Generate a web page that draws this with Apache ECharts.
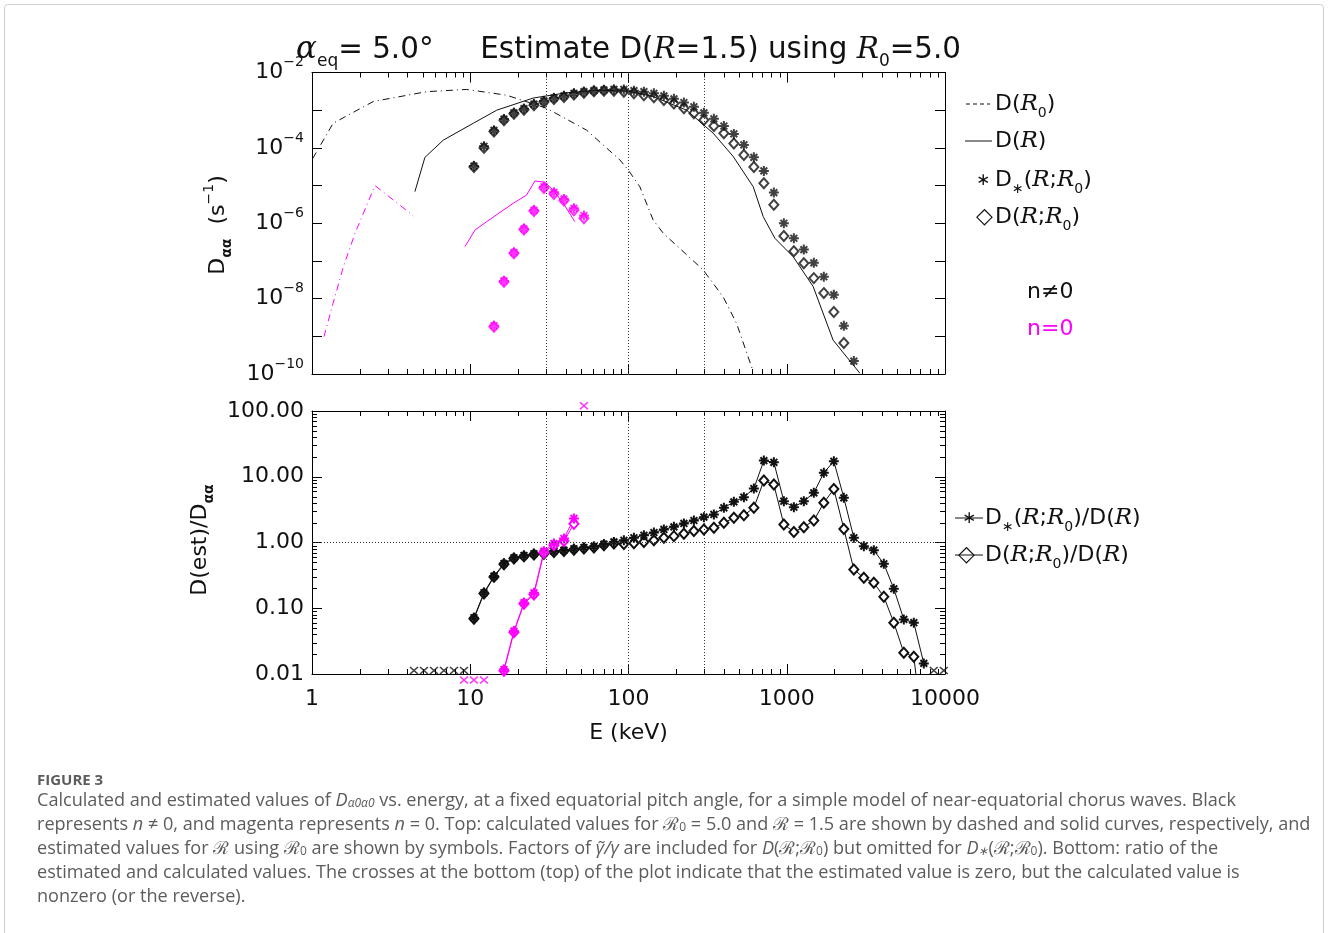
<!DOCTYPE html>
<html>
<head>
<meta charset="utf-8">
<script src="https://cdn.jsdelivr.net/npm/echarts@6/dist/echarts.min.js"></script>
<style>html,body{margin:0;padding:0;background:#fff}#main{width:1328px;height:933px}</style>
</head>
<body>
<div id="main"></div>
<script>
// energy grid of the symbols (keV)
var energy = [10.55, 12.21, 14.12, 16.33, 18.88, 21.84, 25.26, 29.22, 33.79, 39.08, 45.20, 52.27,
  60.46, 69.93, 80.88, 93.5, 108.2, 125.1, 144.7, 167.3, 193.6, 223.9, 258.9, 299.5, 346.4, 400.6,
  463.3, 535.8, 619.7, 716.7, 828.9, 958.7, 1109, 1282, 1483, 1715, 1984, 2295, 2654, 3069, 3550,
  4106, 4749, 5492, 6352, 7346, 8496, 9826];

// top panel, n != 0
var dR0E = [1.01, 1.36, 2.44, 5.30, 9.49, 16.98, 30.4, 54.4, 88.2, 99.5, 118, 143, 166, 296, 396, 482, 614];
var dR0 = [5.2e-5, 4.5e-4, 1.7e-3, 3.1e-3, 3.55e-3, 2.5e-3, 1.12e-3, 2.95e-4, 4.8e-5, 2.6e-5, 9.3e-6,
  1.23e-6, 5.4e-7, 5.8e-8, 1.12e-8, 2.2e-9, 1.15e-10];
var dRE = [4.47, 5.17, 6.75, 10.45, 14.7, 25.0, 40.6, 65.9, 100, 143, 233, 343, 459, 614, 710, 841, 1097, 1468, 1964, 2897];
var dR = [6.9e-6, 5.6e-5, 1.6e-4, 4.5e-4, 1.0e-3, 2.1e-3, 2.9e-3, 3.4e-3, 3.2e-3, 2.3e-3, 1.0e-3, 2.45e-4,
  5.9e-5, 9.3e-6, 1.5e-6, 4.0e-7, 1.3e-7, 2.1e-8, 7.9e-10, 1.05e-10];
var dStar = [3.3e-5, 1.1e-4, 2.9e-4, 5.8e-4, 8.5e-4, 1.1e-3, 1.45e-3, 1.75e-3, 2.1e-3, 2.4e-3, 2.8e-3, 3.1e-3,
  3.3e-3, 3.45e-3, 3.55e-3, 3.55e-3, 3.3e-3, 3.1e-3, 2.8e-3, 2.4e-3, 2.0e-3, 1.6e-3, 1.23e-3, 8.5e-4,
  5.9e-4, 3.8e-4, 2.35e-4, 1.2e-4, 5.6e-5, 2.45e-5, 6.5e-6, 1.0e-6, 4.0e-7, 2.0e-7, 8.9e-8, 3.8e-8,
  1.26e-8, 1.9e-9, 2.2e-10];
var dDiam = [3.1e-5, 1.0e-4, 2.7e-4, 5.4e-4, 8.0e-4, 1.03e-3, 1.36e-3, 1.65e-3, 1.98e-3, 2.25e-3, 2.6e-3, 2.9e-3,
  3.2e-3, 3.3e-3, 3.3e-3, 3.1e-3, 2.8e-3, 2.5e-3, 2.2e-3, 1.86e-3, 1.5e-3, 1.12e-3, 8.3e-4, 5.5e-4,
  3.8e-4, 2.45e-4, 1.3e-4, 6.5e-5, 3.1e-5, 1.15e-5, 3.1e-6, 4.6e-7, 1.8e-7, 8.7e-8, 3.5e-8, 1.4e-8,
  4.4e-9, 6.6e-10];

// top panel, n = 0 (symbols start at energy[2])
var mR0E = [1.19, 1.36, 1.58, 1.87, 2.50, 4.16, 4.36];
var mR0 = [9.8e-10, 7.6e-9, 7.1e-8, 5.4e-7, 1.0e-5, 1.86e-6, 1.55e-6];
var mRE = [9.26, 10.71, 12.69, 18.7, 22.7, 25.6, 29.6, 33.4, 38.7, 45.8];
var mR = [2.4e-7, 6.6e-7, 1.1e-6, 3.4e-6, 5.6e-6, 1.32e-5, 1.23e-5, 7.6e-6, 3.4e-6, 1.1e-6];
var mStar = [1.9e-9, 2.95e-8, 1.66e-7, 7.1e-7, 2.2e-6, 9.3e-6, 6.6e-6, 4.4e-6, 2.5e-6, 1.6e-6];
var mDiam = [1.8e-9, 2.8e-8, 1.6e-7, 6.8e-7, 2.1e-6, 8.6e-6, 6.0e-6, 4.0e-6, 2.2e-6, 1.35e-6];

// bottom panel ratios, n != 0 (from energy[0])
var rStar = [0.0716, 0.172, 0.308, 0.479, 0.585, 0.634, 0.673, 0.697, 0.738, 0.764, 0.802, 0.839, 0.869,
  0.942, 1.02, 1.08, 1.18, 1.29, 1.42, 1.58, 1.73, 1.95, 2.16, 2.43, 2.67, 3.37, 4.15, 4.89, 6.62, 17.6,
  16.6, 4.25, 3.44, 4.25, 5.69, 11.5, 17.2, 4.78, 1.18, 0.88, 0.764, 0.474, 0.198, 0.0676, 0.0603, 0.0145];
var rDiam = [0.069, 0.167, 0.30, 0.465, 0.57, 0.615, 0.655, 0.675, 0.715, 0.74, 0.775, 0.81, 0.84, 0.91,
  0.966, 0.95, 0.975, 1.02, 1.08, 1.18, 1.25, 1.36, 1.49, 1.58, 1.67, 1.99, 2.37, 2.60, 3.37, 8.75, 7.60,
  1.88, 1.45, 1.71, 2.16, 4.01, 6.5, 1.61, 0.389, 0.290, 0.244, 0.150, 0.0603, 0.0211, 0.0183, 0.001];
// bottom panel ratios, n = 0 (from energy[3])
var rmStar = [0.0117, 0.0449, 0.121, 0.172, 0.738, 0.966, 1.15, 2.32];
var rmDiam = [0.0112, 0.043, 0.117, 0.162, 0.697, 0.912, 1.05, 1.92];

// crosses: estimate zero (bottom) or calculation zero (top)
var crossBlackE = [4.41, 5.10, 5.90, 6.82, 7.89, 9.13, 8496, 9826];
var crossMagLowE = [9.13, 10.55, 12.21];
var crossMagHighE = [52.27];
var crossLow = 0.0113, crossBelow = 0.0081, crossAbove = 120;

var refE = [30, 100, 300];
var xTicks = ['1', '10', '100', '1000', '10000'];

var MAG = '#ff00ff';
var FONT = 'DejaVu Sans';
var STAR = 'path://M0,8H20V12H0Z M8,0H12V20H8Z M1.8,4.6L4.6,1.8L18.2,15.4L15.4,18.2Z M15.4,1.8L18.2,4.6L4.6,18.2L1.8,15.4Z';
var CROSS = 'path://M0,2.5L2.5,0L20,17.5L17.5,20Z M17.5,0L20,2.5L2.5,20L0,17.5Z';

function pairs(xs, ys) {
  return ys.map(function (v, i) { return [xs[i], v]; });
}

function curve(xs, ys, color, dash, xi, yi) {
  return {
    type: 'line', xAxisIndex: xi, yAxisIndex: yi, data: pairs(xs, ys), showSymbol: false,
    symbol: 'none', silent: true, animation: false,
    lineStyle: { color: color, width: 1, type: dash || 'solid' }
  };
}

function marks(xs, ys, color, kind, xi, yi, withLine) {
  var s = {
    type: withLine ? 'line' : 'scatter', xAxisIndex: xi, yAxisIndex: yi, data: pairs(xs, ys),
    symbol: kind === 'star' ? STAR : 'emptyDiamond',
    symbolSize: kind === 'star' ? 10 : [9, 10],
    showSymbol: true, silent: true, animation: false,
    itemStyle: kind === 'star' ? { color: color } : { color: color, borderWidth: 1 }
  };
  if (withLine) s.lineStyle = { color: color, width: 1 };
  return s;
}

function crosses(xs, y, color, xi, yi) {
  return {
    type: 'scatter', xAxisIndex: xi, yAxisIndex: yi, clip: false, silent: true, animation: false,
    data: xs.map(function (x) { return [x, y]; }),
    symbol: CROSS, symbolSize: [9, 8], itemStyle: { color: color }
  };
}

function minorTicks(xi, yi, xr, yr, withY) {
  return {
    type: 'custom', xAxisIndex: xi, yAxisIndex: yi, silent: true, clip: false, animation: false,
    data: [[xr[0], yr[0]]],
    renderItem: function (params, api) {
      var kids = [];
      var st = { stroke: '#000', lineWidth: 1 };
      var lo = api.coord([xr[0], yr[0]]), hi = api.coord([xr[1], yr[1]]);
      function seg(a, b, c, d) {
        kids.push({ type: 'line', shape: { x1: a, y1: b, x2: c, y2: d }, style: st });
      }
      var e, m, p;
      for (e = Math.round(Math.log10(xr[0])); e < Math.round(Math.log10(xr[1])); e++) {
        for (m = 2; m < 10; m++) {
          p = Math.round(api.coord([m * Math.pow(10, e), yr[0]])[0]) + 0.5;
          seg(p, lo[1], p, lo[1] - 5);
          seg(p, hi[1], p, hi[1] + 5);
        }
      }
      if (withY) {
        for (e = Math.round(Math.log10(yr[0])); e < Math.round(Math.log10(yr[1])); e++) {
          for (m = 2; m < 10; m++) {
            p = Math.round(api.coord([xr[0], m * Math.pow(10, e)])[1]) + 0.5;
            seg(lo[0], p, lo[0] + 5, p);
            seg(hi[0], p, hi[0] - 5, p);
          }
        }
      }
      return { type: 'group', children: kids };
    }
  };
}

function refLines(withH) {
  var d = refE.map(function (e) { return { xAxis: e }; });
  if (withH) d.push({ yAxis: 1 });
  return {
    silent: true, symbol: 'none', label: { show: false }, animation: false,
    lineStyle: { type: [1, 2], color: '#333', width: 1 }, data: d
  };
}

function xAxisOf(grid, pos, labels) {
  return {
    type: 'log', gridIndex: grid, position: pos, min: 1, max: 10000, logBase: 10,
    axisLine: { show: true, lineStyle: { color: '#000', width: 1 } },
    axisTick: { show: true, inside: true, length: 10, lineStyle: { color: '#000' } },
    splitLine: { show: false },
    axisLabel: labels ? {
      show: true, margin: 14, fontFamily: FONT, fontSize: 22, color: '#111',
      formatter: function (v) { return xTicks[Math.round(Math.log10(v))]; }
    } : { show: false },
    name: labels ? 'E (keV)' : '', nameLocation: 'middle', nameGap: 48,
    nameTextStyle: { fontFamily: FONT, fontSize: 22, color: '#111' }
  };
}

function yAxisOf(grid, pos, min, max, fmt) {
  return {
    type: 'log', gridIndex: grid, position: pos, min: min, max: max, logBase: 10,
    axisLine: { show: true, lineStyle: { color: '#000', width: 1 } },
    axisTick: { show: true, inside: true, length: 10, lineStyle: { color: '#000' } },
    splitLine: { show: false },
    axisLabel: fmt ? {
      show: true, margin: 8, fontFamily: FONT, fontSize: 22, color: '#111', lineHeight: 34,
      formatter: fmt,
      rich: { s: { fontFamily: FONT, fontSize: 14, color: '#111', verticalAlign: 'top', lineHeight: 16 } }
    } : { show: false }
  };
}

function powLabel(v) {
  var e = Math.round(Math.log10(v));
  if (e % 2 !== 0) return '';
  return '10{s|' + (e < 0 ? '\u2212' : '') + Math.abs(e) + '}';
}

var rich = {
  t: { fontFamily: FONT, fontSize: 22, fill: '#111', lineHeight: 32 },
  ri: { fontFamily: 'DejaVu Serif', fontStyle: 'italic', fontSize: 23, fill: '#111', lineHeight: 32 },
  sub: { fontFamily: FONT, fontSize: 14, fill: '#111', verticalAlign: 'bottom', lineHeight: 18 },
  sup: { fontFamily: FONT, fontSize: 14, fill: '#111', verticalAlign: 'top', lineHeight: 18 },
  b: { fontFamily: FONT, fontWeight: 'bold', fontSize: 14, fill: '#111', verticalAlign: 'bottom', lineHeight: 20 },
  st: { fontFamily: FONT, fontSize: 17, fill: '#111', lineHeight: 32 }
};
function richColor(c) {
  var out = {};
  Object.keys(rich).forEach(function (k) {
    out[k] = Object.assign({}, rich[k], { fill: c });
  });
  return out;
}

function label(x, y, text, extra) {
  return {
    type: 'text', x: x, y: y, silent: true,
    style: Object.assign({ text: text, rich: rich, textAlign: 'left', textVerticalAlign: 'middle',
      fontFamily: FONT, fontSize: 22, fill: '#111' }, extra || {})
  };
}

function hline(x1, x2, y, dash) {
  return { type: 'line', silent: true, shape: { x1: x1, y1: y, x2: x2, y2: y },
    style: { stroke: '#111', lineWidth: 1, lineDash: dash || null } };
}

var CAPF = 'Open Sans', CAPC = '#5c5c5c', CAPS = 18.1;
var capRich = {
  i: { fontFamily: CAPF, fontStyle: 'italic', fontSize: CAPS, fill: CAPC },
  is: { fontFamily: CAPF, fontStyle: 'italic', fontSize: 12, fill: CAPC, verticalAlign: 'bottom', lineHeight: 15 },
  s: { fontFamily: CAPF, fontSize: 12, fill: CAPC, verticalAlign: 'bottom', lineHeight: 15 }
};
var caption = [
  'Calculated and estimated values of {i|D}{is|\u03b10\u03b10} vs. energy, at a fixed equatorial pitch angle, for a simple model of near-equatorial chorus waves. Black',
  'represents {i|n} \u2260 0, and magenta represents {i|n} = 0. Top: calculated values for \u211b{s|0} = 5.0 and \u211b = 1.5 are shown by dashed and solid curves, respectively, and',
  'estimated values for \u211b using \u211b{s|0} are shown by symbols. Factors of {i|\u03b3\u0303/\u03b3} are included for {i|D}(\u211b;\u211b{s|0}) but omitted for {i|D}{is|\u2217}(\u211b;\u211b{s|0}). Bottom: ratio of the',
  'estimated and calculated values. The crosses at the bottom (top) of the plot indicate that the estimated value is zero, but the calculated value is',
  'nonzero (or the reverse).'
];

var graphics = [
  { type: 'rect', silent: true, shape: { x: 4.5, y: 4.5, width: 1319, height: 940, r: 3 },
    style: { fill: null, stroke: '#cfcfcf', lineWidth: 1 } },
  label(296, 50, '{a|\u03b1}{gs|eq}{tt|= 5.0\u00b0     Estimate D(}{ri2|R}{tt|=1.5) using }{ri2|R}{gs0|0}{tt|=5.0}', {
    rich: {
      a: { fontFamily: 'DejaVu Serif', fontStyle: 'italic', fontSize: 31, fill: '#111', lineHeight: 40 },
      gs: { fontFamily: FONT, fontSize: 17, fill: '#111', verticalAlign: 'bottom', lineHeight: 22 },
      gs0: { fontFamily: FONT, fontSize: 17, fill: '#111', verticalAlign: 'bottom', lineHeight: 24 },
      tt: { fontFamily: FONT, fontSize: 29.4, fill: '#111', lineHeight: 40 },
      ri2: { fontFamily: 'DejaVu Serif', fontStyle: 'italic', fontSize: 29.5, fill: '#111', lineHeight: 40 }
    }
  }),
  // y titles
  { type: 'text', x: 218, y: 225, rotation: Math.PI / 2, silent: true,
    style: { text: '{t|D}{b|\u03b1\u03b1}{t|  (s}{sup|\u22121}{t|)}', rich: rich, textAlign: 'center', textVerticalAlign: 'middle' } },
  { type: 'text', x: 200, y: 540, rotation: Math.PI / 2, silent: true,
    style: { text: '{t|D(est)/D}{b|\u03b1\u03b1}', rich: rich, textAlign: 'center', textVerticalAlign: 'middle' } },
  // top legend
  hline(966, 990, 104, [4, 3]),
  label(995, 104, '{t|D(}{ri|R}{sub|0}{t|)}'),
  hline(965, 992, 141),
  label(995, 141, '{t|D(}{ri|R}{t|)}'),
  label(976, 181, '{st|\u2217}'),
  label(995, 180, '{t|D}{sub|\u2217}{t|(}{ri|R}{t|;}{ri|R}{sub|0}{t|)}'),
  label(976, 217, '{t|\u25c7}'),
  label(995, 217, '{t|D(}{ri|R}{t|;}{ri|R}{sub|0}{t|)}'),
  label(1027, 292, '{t|n\u22600}'),
  label(1027, 329, '{t|n=0}', { rich: richColor(MAG) }),
  // bottom legend
  hline(955, 983, 518),
  label(962, 519, '{st|\u2217}'),
  label(985, 518, '{t|D}{sub|\u2217}{t|(}{ri|R}{t|;}{ri|R}{sub|0}{t|)/D(}{ri|R}{t|)}'),
  hline(955, 983, 555),
  label(958, 555, '{t|\u25c7}'),
  label(985, 555, '{t|D(}{ri|R}{t|;}{ri|R}{sub|0}{t|)/D(}{ri|R}{t|)}'),
  // caption
  { type: 'text', x: 37, y: 781, silent: true,
    style: { text: 'FIGURE 3', fontFamily: CAPF, fontWeight: 'bold', fontSize: 15, fill: CAPC, textVerticalAlign: 'middle' } }
];
caption.forEach(function (line, i) {
  graphics.push({ type: 'text', x: 37, y: 801 + 24 * i, silent: true,
    style: { text: line, rich: capRich, fontFamily: CAPF, fontSize: CAPS, fill: CAPC, textVerticalAlign: 'middle' } });
});

var TOP = [1e-10, 1e-2], BOT = [0.01, 100], XR = [1, 10000];

var series = [
  minorTicks(0, 0, XR, TOP, false),
  minorTicks(2, 2, XR, BOT, true),
  Object.assign(curve(dR0E, dR0, '#111', [7, 4, 1, 4], 0, 0), { markLine: refLines(false) }),
  curve(dRE, dR, '#111', 'solid', 0, 0),
  marks(energy, dDiam, '#111', 'diamond', 0, 0, false),
  marks(energy, dStar, '#111', 'star', 0, 0, false),
  curve(mR0E, mR0, MAG, [7, 4, 1, 4], 0, 0),
  curve(mRE, mR, MAG, 'solid', 0, 0),
  marks(energy.slice(2), mDiam, MAG, 'diamond', 0, 0, false),
  marks(energy.slice(2), mStar, MAG, 'star', 0, 0, false),
  Object.assign(marks(energy, rDiam, '#111', 'diamond', 2, 2, true), { markLine: refLines(true) }),
  marks(energy, rStar, '#111', 'star', 2, 2, true),
  marks(energy.slice(3), rmDiam, MAG, 'diamond', 2, 2, true),
  marks(energy.slice(3), rmStar, MAG, 'star', 2, 2, true),
  crosses(crossBlackE, crossLow, '#111', 2, 2),
  crosses(crossMagLowE, crossBelow, MAG, 2, 2),
  crosses(crossMagHighE, crossAbove, MAG, 2, 2)
];

var option = {
  animation: false,
  backgroundColor: '#fff',
  grid: [
    { left: 312, top: 72.5, width: 633, height: 301.5, containLabel: false, outerBoundsMode: 'none' },
    { left: 312, top: 411, width: 633, height: 263, containLabel: false, outerBoundsMode: 'none' }
  ],
  xAxis: [xAxisOf(0, 'bottom', false), xAxisOf(0, 'top', false), xAxisOf(1, 'bottom', true), xAxisOf(1, 'top', false)],
  yAxis: [
    yAxisOf(0, 'left', TOP[0], TOP[1], powLabel),
    yAxisOf(0, 'right', TOP[0], TOP[1], null),
    yAxisOf(1, 'left', BOT[0], BOT[1], function (v) { return v.toFixed(2); }),
    yAxisOf(1, 'right', BOT[0], BOT[1], null)
  ],
  graphic: graphics,
  series: series
};

var chart = echarts.init(document.getElementById('main'));
chart.setOption(option);
</script>
</body>
</html>
